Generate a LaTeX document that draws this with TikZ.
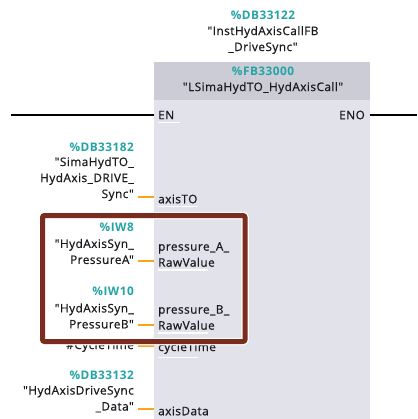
\documentclass[tikz,border=0pt]{standalone}
\usepackage{fontspec}
\setmainfont{Open Sans}[Ligatures=TeXOff, LetterSpace=4, UprightFeatures={FakeBold=0.6}]
\definecolor{addrteal}{RGB}{36,164,166}
\definecolor{symtext}{RGB}{25,25,30}
\definecolor{hdrgray}{RGB}{203,204,214}
\definecolor{bodygray}{RGB}{225,226,234}
\definecolor{wireorange}{RGB}{247,164,30}
\definecolor{framebrown}{RGB}{122,45,30}
\tikzset{
  x=1pt, y=-1pt,
  txt/.style={inner sep=0pt, font=\fontsize{11.8}{16}\selectfont, text=symtext},
  addrtxt/.style={txt, text=addrteal, font=\fontsize{11.8}{16}\selectfont\bfseries},
  addr/.style={addrtxt, anchor=east},
  sym/.style={txt, align=right, anchor=east},
  pin/.style={txt, align=left, anchor=west},
  wire/.style={wireorange, line width=1.6pt},
  rail/.style={black, line width=1.8pt},
  pinline/.style={white, line width=1.2pt},
}
\begin{document}
\begin{tikzpicture}
\useasboundingbox (0,0) rectangle (417,419);
\fill[white] (0,0) rectangle (417,419);

% block body and header
\fill[bodygray] (154,62) rectangle (370,419);
\fill[hdrgray] (154,62) rectangle (370,100);
\coordinate (blkW) at (154,115);
\coordinate (blkE) at (370,115);

% instance data block
\node[addrtxt] (instaddr) at (263,15) {\%DB33122};
\node[txt, align=center] (instname) at (263,40) {"InstHydAxisCallFB\\\_DriveSync"};

% header
\node[addrtxt] (fbaddr) at (263,71) {\%FB33000};
\node[txt] (fbname) at (263,88) {"LSimaHydTO\_HydAxisCall"};

% power rail
\coordinate (railL) at (11,115);
\coordinate (railR) at (417,115);
\draw[rail] (railL) -- (blkW);
\draw[rail] (blkE) -- (railR);
\node[pin] (en) at (158,115) {EN};
\node[txt, anchor=east] (eno) at (365,115) {ENO};

% pins
\node[pin] (axisTO) at (158,199) {axisTO};
\node[pin] (pA) at (158,254.5) {pressure\_A\_\\RawValue};
\node[pin] (pB) at (158,317.5) {pressure\_B\_\\RawValue};
\node[pin] (cyc) at (158,348) {cycleTime};
\node[pin] (axisData) at (158,411) {axisData};

% pin highlights
\draw[pinline] (en.south west) ++(0,3) -- ++(22,0);
\draw[pinline] (axisTO.south west) ++(0,3) -- ++(40,0);
\draw[pinline] (pA.south west) ++(0,3) -- ++(50,0);
\draw[pinline] (pB.south west) ++(0,3) -- ++(50,0);
\draw[pinline] (cyc.south west) ++(0,3) -- ++(40,0);

% actual parameters
\node[addr] (a1) at (134,147) {\%DB33182};
\node[sym] (s1) at (134,179) {"SimaHydTO\_\\HydAxis\_DRIVE\_\\Sync"};
\node[addr] (a2) at (134,227) {\%IW8};
\node[sym] (s2) at (134,251.5) {"HydAxisSyn\_\\PressureA"};
\node[addr] (a3) at (134,291) {\%IW10};
\node[sym] (s3) at (134,316) {"HydAxisSyn\_\\PressureB"};
\node[sym] (s4) at (134,346) {\#CycleTime};
\node[addr] (a5) at (134,375) {\%DB33132};
\node[sym] (s5) at (134,399) {"HydAxisDriveSync\\\_Data"};

% parameter wires
\coordinate (w1) at (154,197);
\coordinate (w2) at (154,261);
\coordinate (w3) at (154,325);
\coordinate (w4) at (154,346);
\coordinate (w5) at (154,409);
\draw[wire] (w1 -| s1.east) ++(4,0) -- (w1);
\draw[wire] (w2 -| s2.east) ++(4,0) -- (w2);
\draw[wire] (w3 -| s3.east) ++(4,0) -- (w3);
\draw[wire] (w4 -| s4.east) ++(4,0) -- (w4);
\draw[wire] (w5 -| s5.east) ++(4,0) -- (w5);

% highlight frame around the pressure inputs
\draw[white, line width=7.5pt, rounded corners=2pt] (42.5,215.5) rectangle (245,341.5);
\draw[framebrown, line width=5pt, rounded corners=2pt] (42.5,215.5) rectangle (245,341.5);
\end{tikzpicture}
\end{document}
